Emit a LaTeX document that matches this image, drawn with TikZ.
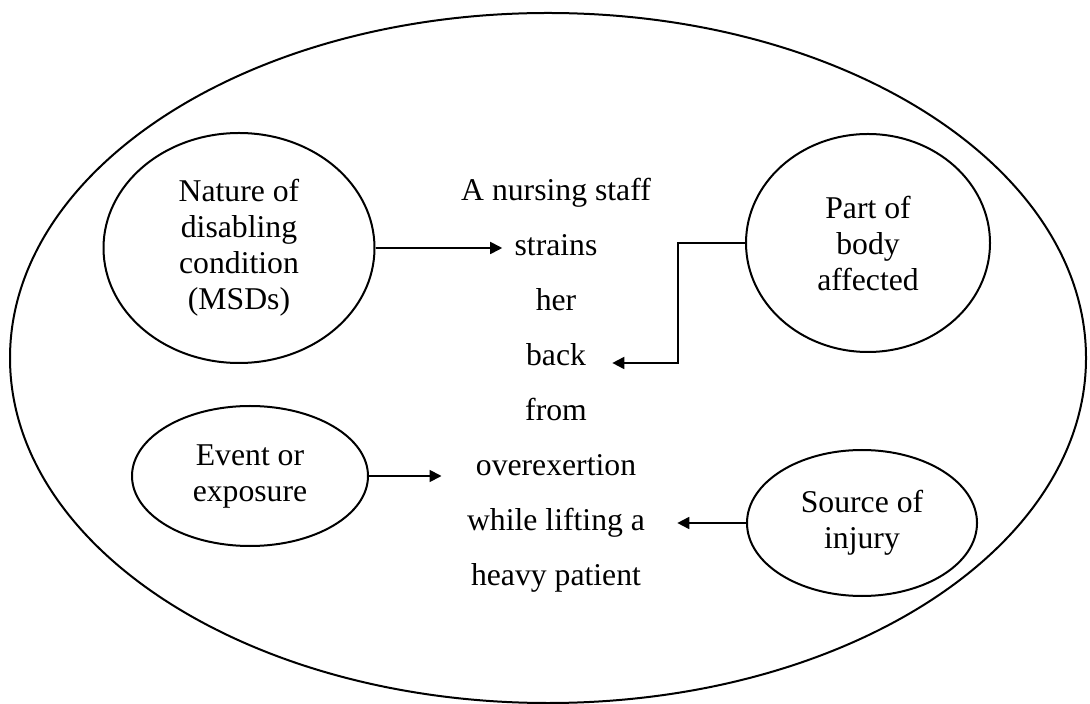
\documentclass[tikz,border=0pt]{standalone}
\usepackage{fontspec}
\setmainfont{Liberation Serif}
\usetikzlibrary{shapes.geometric,arrows.meta}
\tikzset{
  bubble/.style={draw,ellipse,line width=1pt,inner sep=0pt,align=center,font=\fontsize{15.85}{18}\selectfont},
  phrase/.style={inner sep=0pt,text height=11pt,text depth=3.5pt,font=\fontsize{15.85}{18}\selectfont},
  link/.style={line width=0.9pt,-{Triangle[length=6pt,width=6pt]}}
}
\begin{document}
\begin{tikzpicture}[x=0.5pt,y=-0.5pt]
   \useasboundingbox (0,0) rectangle (1090,704);
    \coordinate (o) at (548,358);
    \draw[line width=1pt] (o) ellipse [x radius=538, y radius=345];
    \node[bubble,minimum width=135.5pt,minimum height=115pt] (nature) at (239,248) {Nature of\\disabling\\condition\\(MSDs)};
    \node[bubble,minimum width=122pt,minimum height=109pt] (part) at (868,243) {Part of\\body\\affected};
    \node[bubble,minimum width=118pt,minimum height=70pt] (event) at (250,476) {Event or\\exposure};
    \node[bubble,minimum width=115pt,minimum height=73pt] (source) at (862,523) {Source of\\injury};
    \node[phrase] (staff) at (556,193) {A nursing staff};
    \node[phrase] (strains) at (556,248) {strains};
    \node[phrase] (her) at (556,303) {her};
    \node[phrase] (back) at (556,358) {back};
    \node[phrase] (from) at (556,413) {from};
    \node[phrase] (overexertion) at (556,468) {overexertion};
    \node[phrase] (lifting) at (556,523) {while lifting a};
    \node[phrase] (patient) at (556,578) {heavy patient};
    \draw[link] (nature.east) -- ([xshift=-6pt]nature.east -| strains.west);
    \draw[link] (part.west) -- ++(-67,0) |- ([xshift=13pt,yshift=-2.5pt]back.east);
    \draw[link] (event.east) -- ([xshift=-17pt]event.east -| overexertion.west);
    \draw[link] (source.west) -- ([xshift=16pt]source.west -| lifting.east);
		\end{tikzpicture}
\end{document}
